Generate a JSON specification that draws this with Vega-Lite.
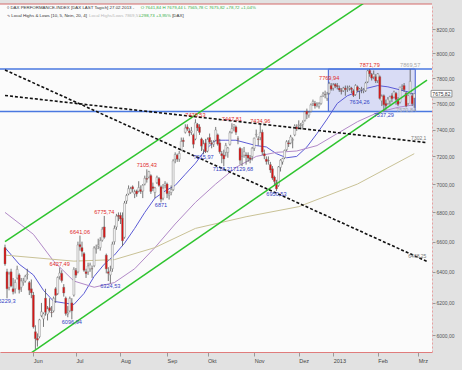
{
"$schema":"https://vega.github.io/schema/vega-lite/v6.json",
"width":432,"height":348,
"autosize":{"type":"none"},
"padding":{"left":0,"top":4,"right":30,"bottom":18},
"background":"#e2e2e2",
"config":{"view":{"stroke":null,"fill":"#fbfbfb"},"font":"Liberation Sans"},
"datasets":{
"candles":[
{"i":-14,"o":6560,"h":6580,"l":6440,"c":6452},{"i":-13,"o":6400,"h":6420,"l":6229.3,"c":6290},{"i":-12,"o":6300,"h":6400,"l":6280,"c":6385},{"i":-11,"o":6400,"h":6420,"l":6300,"c":6308},{"i":-10,"o":6290,"h":6360,"l":6254,"c":6271},{"i":-9,"o":6290,"h":6350,"l":6260,"c":6331},{"i":-8,"o":6360,"h":6440,"l":6350,"c":6416},{"i":-7,"o":6380,"h":6390,"l":6260,"c":6284},{"i":-6,"o":6300,"h":6360,"l":6270,"c":6340},{"i":-5,"o":6330,"h":6360,"l":6310,"c":6339},{"i":-4,"o":6340,"h":6380,"l":6330,"c":6370},{"i":-3,"o":6380,"h":6420,"l":6350,"c":6384},{"i":-2,"o":6330,"h":6340,"l":6250,"c":6281},{"i":-1,"o":6290,"h":6350,"l":6230,"c":6264},
{"i":0,"o":6250,"h":6270,"l":6040,"c":6050},{"i":1,"o":6020,"h":6060,"l":5914,"c":5978},{"i":2,"o":5980,"h":6010,"l":5930,"c":5969},{"i":3,"o":5990,"h":6100,"l":5980,"c":6094},{"i":4,"o":6120,"h":6200,"l":6110,"c":6144},{"i":5,"o":6100,"h":6140,"l":6050,"c":6131},{"i":6,"o":6230,"h":6290,"l":6120,"c":6141},{"i":7,"o":6130,"h":6180,"l":6090,"c":6162},{"i":8,"o":6170,"h":6230,"l":6140,"c":6152},{"i":9,"o":6140,"h":6180,"l":6110,"c":6138},
{"i":10,"o":6150,"h":6240,"l":6140,"c":6229},{"i":11,"o":6290,"h":6300,"l":6200,"c":6248},{"i":12,"o":6260,"h":6370,"l":6250,"c":6363},{"i":13,"o":6370,"h":6427.49,"l":6350,"c":6392},{"i":14,"o":6390,"h":6410,"l":6330,"c":6343},{"i":15,"o":6300,"h":6320,"l":6240,"c":6263},{"i":16,"o":6230,"h":6240,"l":6120,"c":6133},{"i":17,"o":6130,"h":6180,"l":6110,"c":6136},{"i":18,"o":6150,"h":6240,"l":6140,"c":6228},{"i":19,"o":6200,"h":6230,"l":6096.94,"c":6150},
{"i":20,"o":6250,"h":6430,"l":6240,"c":6416},{"i":21,"o":6410,"h":6425,"l":6360,"c":6378},{"i":22,"o":6400,"h":6600,"l":6390,"c":6578},{"i":23,"o":6580,"h":6641.06,"l":6540,"c":6566},{"i":24,"o":6560,"h":6600,"l":6500,"c":6535},{"i":25,"o":6520,"h":6530,"l":6400,"c":6410},{"i":26,"o":6400,"h":6420,"l":6360,"c":6388},{"i":27,"o":6400,"h":6460,"l":6380,"c":6438},{"i":28,"o":6420,"h":6460,"l":6400,"c":6444},{"i":29,"o":6420,"h":6440,"l":6360,"c":6419},
{"i":30,"o":6440,"h":6570,"l":6430,"c":6558},{"i":31,"o":6550,"h":6580,"l":6520,"c":6555},{"i":32,"o":6570,"h":6620,"l":6550,"c":6579},{"i":33,"o":6560,"h":6630,"l":6540,"c":6607},{"i":34,"o":6610,"h":6700,"l":6600,"c":6684},{"i":35,"o":6700,"h":6775.74,"l":6620,"c":6630},{"i":36,"o":6510,"h":6520,"l":6390,"c":6419},{"i":37,"o":6400,"h":6430,"l":6340,"c":6390},{"i":38,"o":6380,"h":6440,"l":6324.53,"c":6405},{"i":39,"o":6420,"h":6600,"l":6400,"c":6583},
{"i":40,"o":6600,"h":6710,"l":6580,"c":6690},{"i":41,"o":6700,"h":6790,"l":6680,"c":6774},{"i":42,"o":6780,"h":6800,"l":6740,"c":6772},{"i":43,"o":6780,"h":6800,"l":6720,"c":6754},{"i":44,"o":6760,"h":6800,"l":6570,"c":6606},{"i":45,"o":6630,"h":6880,"l":6620,"c":6865},{"i":46,"o":6880,"h":6930,"l":6860,"c":6918},{"i":47,"o":6930,"h":6990,"l":6920,"c":6967},{"i":48,"o":6940,"h":6980,"l":6930,"c":6966},{"i":49,"o":6980,"h":6990,"l":6940,"c":6965},
{"i":50,"o":6930,"h":6960,"l":6900,"c":6944},{"i":51,"o":6950,"h":6960,"l":6910,"c":6930},{"i":52,"o":6950,"h":7020,"l":6940,"c":6974},{"i":53,"o":6960,"h":6990,"l":6930,"c":6947},{"i":54,"o":6950,"h":7000,"l":6900,"c":6991},{"i":55,"o":7000,"h":7060,"l":6990,"c":7041},{"i":56,"o":7040,"h":7105.43,"l":7010,"c":7034},{"i":57,"o":7050,"h":7095,"l":7040,"c":7089},{"i":58,"o":7060,"h":7070,"l":6930,"c":6947},{"i":59,"o":6980,"h":7010,"l":6950,"c":6969},
{"i":60,"o":6940,"h":6980,"l":6900,"c":6972},{"i":61,"o":7010,"h":7060,"l":7000,"c":7048},{"i":62,"o":7040,"h":7050,"l":6980,"c":6990},{"i":63,"o":6980,"h":6990,"l":6871,"c":6893},{"i":64,"o":6900,"h":7000,"l":6885,"c":6970},{"i":65,"o":6990,"h":7020,"l":6970,"c":7004},{"i":66,"o":7000,"h":7010,"l":6900,"c":6932},{"i":67,"o":6920,"h":6950,"l":6890,"c":6928},{"i":68,"o":6940,"h":6990,"l":6920,"c":6960},{"i":69,"o":6960,"h":7180,"l":6950,"c":7167},
{"i":70,"o":7180,"h":7230,"l":7150,"c":7214},{"i":71,"o":7210,"h":7220,"l":7160,"c":7180},{"i":72,"o":7180,"h":7240,"l":7160,"c":7222},{"i":73,"o":7250,"h":7340,"l":7240,"c":7311},{"i":74,"o":7320,"h":7340,"l":7270,"c":7310},{"i":75,"o":7380,"h":7440,"l":7370,"c":7412},{"i":76,"o":7420,"h":7440,"l":7390,"c":7403},{"i":77,"o":7390,"h":7410,"l":7350,"c":7376},{"i":78,"o":7380,"h":7420,"l":7360,"c":7390},{"i":79,"o":7360,"h":7370,"l":7260,"c":7290},
{"i":80,"o":7330,"h":7478.53,"l":7320,"c":7451},{"i":81,"o":7440,"h":7450,"l":7390,"c":7413},{"i":82,"o":7420,"h":7440,"l":7360,"c":7379},{"i":83,"o":7330,"h":7340,"l":7240,"c":7276},{"i":84,"o":7250,"h":7320,"l":7215.97,"c":7292},{"i":85,"o":7300,"h":7330,"l":7225,"c":7236},{"i":86,"o":7240,"h":7340,"l":7230,"c":7326},{"i":87,"o":7340,"h":7370,"l":7290,"c":7306},{"i":88,"o":7300,"h":7320,"l":7260,"c":7291},{"i":89,"o":7290,"h":7320,"l":7270,"c":7305},
{"i":90,"o":7320,"h":7420,"l":7310,"c":7397},{"i":91,"o":7360,"h":7370,"l":7280,"c":7291},{"i":92,"o":7300,"h":7330,"l":7220,"c":7234},{"i":93,"o":7220,"h":7240,"l":7150,"c":7205},{"i":94,"o":7210,"h":7250,"l":7128.21,"c":7181},{"i":95,"o":7230,"h":7300,"l":7200,"c":7281},{"i":96,"o":7230,"h":7270,"l":7190,"c":7262},{"i":97,"o":7290,"h":7390,"l":7280,"c":7376},{"i":98,"o":7380,"h":7447.81,"l":7370,"c":7407},{"i":99,"o":7420,"h":7440,"l":7390,"c":7437},
{"i":100,"o":7420,"h":7430,"l":7360,"c":7380},{"i":101,"o":7330,"h":7350,"l":7290,"c":7328},{"i":102,"o":7260,"h":7270,"l":7140,"c":7172},{"i":103,"o":7200,"h":7260,"l":7129.68,"c":7202},{"i":104,"o":7210,"h":7270,"l":7190,"c":7234},{"i":105,"o":7210,"h":7230,"l":7140,"c":7204},{"i":106,"o":7210,"h":7230,"l":7160,"c":7188},{"i":107,"o":7190,"h":7210,"l":7150,"c":7180},{"i":108,"o":7200,"h":7270,"l":7170,"c":7260},{"i":109,"o":7260,"h":7340,"l":7240,"c":7335},
{"i":110,"o":7360,"h":7400,"l":7340,"c":7364},{"i":111,"o":7330,"h":7350,"l":7280,"c":7326},{"i":112,"o":7340,"h":7434.96,"l":7320,"c":7377},{"i":113,"o":7380,"h":7400,"l":7210,"c":7232},{"i":114,"o":7220,"h":7250,"l":7180,"c":7204},{"i":115,"o":7180,"h":7200,"l":7140,"c":7163},{"i":116,"o":7170,"h":7200,"l":7140,"c":7168},{"i":117,"o":7140,"h":7160,"l":7080,"c":7101},{"i":118,"o":7110,"h":7130,"l":7030,"c":7043},{"i":119,"o":7050,"h":7060,"l":6990,"c":7018},
{"i":120,"o":7010,"h":7030,"l":6950.53,"c":6965},{"i":121,"o":6990,"h":7130,"l":6980,"c":7123},{"i":122,"o":7120,"h":7180,"l":7090,"c":7172},{"i":123,"o":7160,"h":7190,"l":7140,"c":7184},{"i":124,"o":7190,"h":7250,"l":7180,"c":7244},{"i":125,"o":7250,"h":7320,"l":7240,"c":7309},{"i":126,"o":7300,"h":7320,"l":7270,"c":7292},{"i":127,"o":7300,"h":7360,"l":7290,"c":7344},{"i":128,"o":7320,"h":7340,"l":7260,"c":7325},{"i":129,"o":7360,"h":7440,"l":7350,"c":7427},
{"i":130,"o":7420,"h":7440,"l":7390,"c":7405},{"i":131,"o":7430,"h":7470,"l":7400,"c":7435},{"i":132,"o":7430,"h":7450,"l":7400,"c":7434},{"i":133,"o":7440,"h":7470,"l":7400,"c":7455},{"i":134,"o":7470,"h":7540,"l":7460,"c":7534},{"i":135,"o":7540,"h":7560,"l":7480,"c":7517},{"i":136,"o":7510,"h":7540,"l":7490,"c":7530},{"i":137,"o":7540,"h":7600,"l":7530,"c":7589},{"i":138,"o":7600,"h":7630,"l":7580,"c":7614},{"i":139,"o":7600,"h":7620,"l":7560,"c":7581},
{"i":140,"o":7590,"h":7610,"l":7570,"c":7596},{"i":141,"o":7580,"h":7610,"l":7560,"c":7596},{"i":142,"o":7600,"h":7660,"l":7590,"c":7653},{"i":143,"o":7660,"h":7690,"l":7650,"c":7674},{"i":144,"o":7670,"h":7700,"l":7640,"c":7669},{"i":145,"o":7640,"h":7690,"l":7620,"c":7672},{"i":146,"o":7680,"h":7769.94,"l":7670,"c":7755},{"i":147,"o":7740,"h":7760,"l":7700,"c":7712},{"i":148,"o":7720,"h":7760,"l":7700,"c":7745},{"i":149,"o":7750,"h":7760,"l":7720,"c":7735},
{"i":150,"o":7740,"h":7760,"l":7710,"c":7732},{"i":151,"o":7720,"h":7740,"l":7690,"c":7705},{"i":152,"o":7700,"h":7720,"l":7670,"c":7695},{"i":153,"o":7700,"h":7730,"l":7690,"c":7720},{"i":154,"o":7720,"h":7740,"l":7660,"c":7708},{"i":155,"o":7710,"h":7740,"l":7690,"c":7715},{"i":156,"o":7720,"h":7740,"l":7700,"c":7729},{"i":157,"o":7720,"h":7730,"l":7680,"c":7709},{"i":158,"o":7700,"h":7710,"l":7650,"c":7662},{"i":159,"o":7670,"h":7750,"l":7660,"c":7741},
{"i":160,"o":7730,"h":7740,"l":7690,"c":7702},{"i":161,"o":7700,"h":7720,"l":7634.26,"c":7712},{"i":162,"o":7710,"h":7730,"l":7680,"c":7713},{"i":163,"o":7700,"h":7720,"l":7680,"c":7708},{"i":164,"o":7700,"h":7770,"l":7690,"c":7760},{"i":165,"o":7770,"h":7865,"l":7760,"c":7857},{"i":166,"o":7860,"h":7871.79,"l":7810,"c":7833},{"i":167,"o":7830,"h":7840,"l":7780,"c":7799},{"i":168,"o":7810,"h":7860,"l":7790,"c":7830},{"i":169,"o":7810,"h":7830,"l":7760,"c":7776},
{"i":170,"o":7780,"h":7840,"l":7760,"c":7833},{"i":171,"o":7810,"h":7820,"l":7630,"c":7639},{"i":172,"o":7620,"h":7670,"l":7580,"c":7656},{"i":173,"o":7660,"h":7670,"l":7537.29,"c":7590},{"i":174,"o":7600,"h":7630,"l":7550,"c":7583},{"i":175,"o":7600,"h":7650,"l":7590,"c":7633},{"i":176,"o":7620,"h":7660,"l":7590,"c":7652},{"i":177,"o":7660,"h":7680,"l":7610,"c":7637},{"i":178,"o":7650,"h":7700,"l":7640,"c":7689},{"i":179,"o":7680,"h":7690,"l":7590,"c":7631},
{"i":180,"o":7630,"h":7650,"l":7580,"c":7593},{"i":181,"o":7610,"h":7730,"l":7600,"c":7728},{"i":182,"o":7720,"h":7750,"l":7700,"c":7728},{"i":183,"o":7740,"h":7760,"l":7690,"c":7707},{"i":184,"o":7680,"h":7690,"l":7570.84,"c":7581},{"i":185,"o":7600,"h":7670,"l":7590,"c":7661},{"i":186,"o":7680,"h":7869.57,"l":7670,"c":7773},{"i":187,"o":7660,"h":7680,"l":7580,"c":7597},{"i":188,"o":7641.84,"h":7679.44,"l":7565.78,"c":7675.82}
],
"ma":[
{"m":"s","i":-14,"v":6560},{"m":"s","i":-7,"v":6450},{"m":"s","i":0,"v":6380},{"m":"s","i":5,"v":6280},{"m":"s","i":10,"v":6210},{"m":"s","i":15,"v":6200},{"m":"s","i":20,"v":6190},{"m":"s","i":25,"v":6260},{"m":"s","i":30,"v":6370},{"m":"s","i":35,"v":6450},{"m":"s","i":40,"v":6510},{"m":"s","i":45,"v":6590},{"m":"s","i":50,"v":6690},{"m":"s","i":55,"v":6800},{"m":"s","i":60,"v":6900},{"m":"s","i":65,"v":6950},{"m":"s","i":70,"v":6990},{"m":"s","i":75,"v":7070},{"m":"s","i":80,"v":7150},{"m":"s","i":85,"v":7250},{"m":"s","i":90,"v":7320},{"m":"s","i":95,"v":7320},{"m":"s","i":100,"v":7320},{"m":"s","i":105,"v":7300},{"m":"s","i":110,"v":7280},{"m":"s","i":115,"v":7270},{"m":"s","i":120,"v":7220},{"m":"s","i":125,"v":7190},{"m":"s","i":130,"v":7200},{"m":"s","i":135,"v":7270},{"m":"s","i":140,"v":7370},{"m":"s","i":145,"v":7480},{"m":"s","i":150,"v":7600},{"m":"s","i":155,"v":7660},{"m":"s","i":160,"v":7690},{"m":"s","i":165,"v":7720},{"m":"s","i":170,"v":7740},{"m":"s","i":175,"v":7730},{"m":"s","i":180,"v":7710},{"m":"s","i":185,"v":7690},{"m":"s","i":188,"v":7670},
{"m":"m","i":-14,"v":6800},{"m":"m","i":0,"v":6650},{"m":"m","i":10,"v":6470},{"m":"m","i":20,"v":6340},{"m":"m","i":30,"v":6300},{"m":"m","i":40,"v":6330},{"m":"m","i":50,"v":6420},{"m":"m","i":60,"v":6560},{"m":"m","i":70,"v":6720},{"m":"m","i":80,"v":6870},{"m":"m","i":90,"v":7000},{"m":"m","i":100,"v":7120},{"m":"m","i":110,"v":7200},{"m":"m","i":120,"v":7230},{"m":"m","i":130,"v":7240},{"m":"m","i":140,"v":7280},{"m":"m","i":150,"v":7370},{"m":"m","i":160,"v":7460},{"m":"m","i":170,"v":7530},{"m":"m","i":180,"v":7570},{"m":"m","i":188,"v":7590},
{"m":"l","i":-14,"v":6510},{"m":"l","i":20,"v":6470},{"m":"l","i":40,"v":6480},{"m":"l","i":60,"v":6560},{"m":"l","i":80,"v":6690},{"m":"l","i":105,"v":6770},{"m":"l","i":131,"v":6840},{"m":"l","i":160,"v":7000},{"m":"l","i":188,"v":7220}
],
"green":[{"g":"u","i":-14,"v":6601},{"g":"u","i":194.3,"v":8788},{"g":"d","i":-14,"v":5784},{"g":"d","i":194.3,"v":7784}],
"dashed":[{"g":"a","i":-14,"v":7864},{"g":"a","i":194.3,"v":6468.25},{"g":"b","i":-14,"v":7662},{"g":"b","i":194.3,"v":7302.1}],
"hlines":[{"v":7871.79},{"v":7537.29}],
"box":[{"i0":145.6,"i1":188.5,"v0":7537.29,"v1":7871.79}],
"top":[{"v":8412}],
"highs":[{"k":"h","i":13,"v":6427.49,"t":"6427,49"},{"k":"h","i":23,"v":6641.06,"t":"6641,06"},{"k":"h","i":35,"v":6775.74,"t":"6775,74"},{"k":"h","i":56,"v":7105.43,"t":"7105,43"},{"k":"h","i":80,"v":7478.53,"t":"7478,53"},{"k":"h","i":98,"v":7447.81,"t":"7447,81"},{"k":"h","i":112,"v":7434.96,"t":"7434,96"},{"k":"h","i":146,"v":7769.94,"t":"7769,94"},{"k":"h","i":166,"v":7871.79,"t":"7871,79"},{"k":"g","i":186,"v":7869.57,"t":"7869,57"}],
"lows":[{"k":"l","i":-13,"v":6229.3,"t":"6229,3"},{"k":"l","i":19,"v":6096.94,"t":"6096,94"},{"k":"l","i":38,"v":6324.53,"t":"6324,53"},{"k":"l","i":63,"v":6871,"t":"6871"},{"k":"l","i":84,"v":7215.97,"t":"7215,97"},{"k":"l","i":93.5,"v":7128.21,"t":"7128,21"},{"k":"l","i":103.5,"v":7129.68,"t":"7129,68"},{"k":"l","i":120,"v":6950.53,"t":"6950,53"},{"k":"l","i":161,"v":7634.26,"t":"7634,26"},{"k":"l","i":173,"v":7537.29,"t":"7537,29"},{"k":"g","i":184,"v":7570.84,"t":"7570,84"}],
"trendlab":[{"i":194,"v":7302.1,"t":"7302,1"},{"i":194,"v":6468.25,"t":"6468,25"}],
"header":[{"k":"a","i":-13,"v":8378,"t":"◊ DAX PERFORMANCE-INDEX [DAX LAST Tagich] 27.02.2013 -"},{"k":"g","i":53,"v":8378,"t":"O 7641,84 H 7679,44 L 7565,78 C 7675,82 +78,72 +1,04%"},{"k":"a","i":-13,"v":8310,"t":"∿ Local Highs & Lows [10, 5, Nein, 20, 4]"},{"k":"l","i":27.5,"v":8310,"t":"Local Highs/Lows 7869,57"},{"k":"g","i":52,"v":8310,"t":"+298,73 +3,95%"},{"k":"a","i":68.5,"v":8310,"t":"[DAX]"}],
"pricebox":[{"i0":196.3,"i1":206.6,"v0":7650,"v1":7702}],
"price":[{"i":201.4,"v":7675.82,"t":"7675,82"}]
},
"layer":[
{"data":{"name":"box"},"mark":{"type":"rect","fill":"#cdd2f3","fillOpacity":0.75,"stroke":"#3d5bd0","strokeWidth":1},
 "encoding":{"x":{"field":"i0","type":"quantitative","title":null},"x2":{"field":"i1"},"y":{"field":"v0","type":"quantitative","title":null},"y2":{"field":"v1"}}},
{"data":{"name":"hlines"},"mark":{"type":"rule","color":"#4a78e0","strokeWidth":1.4},
 "encoding":{"y":{"field":"v","type":"quantitative","title":null}}},
{"data":{"name":"top"},"mark":{"type":"rule","color":"#d46a6a","strokeWidth":1},
 "encoding":{"y":{"field":"v","type":"quantitative","title":null}}},
{"data":{"name":"ma"},"mark":{"type":"line","strokeWidth":1,"clip":true},
 "encoding":{"x":{"field":"i","type":"quantitative","title":null},"y":{"field":"v","type":"quantitative","title":null},
  "color":{"field":"m","type":"nominal","legend":null,"scale":{"domain":["s","m","l"],"range":["#5b5bd6","#b28ac8","#c9c296"]}}}},
{"data":{"name":"candles"},"mark":{"type":"rule","color":"#555","strokeWidth":0.8,"clip":true},
 "encoding":{
  "x":{"field":"i","type":"quantitative","title":null,"scale":{"domain":[-14,194.3],"nice":false,"zero":false},
   "axis":{"values":[0,21,43,66,86,109,131,148,170,190],"labelExpr":"['Jun','Jul','Aug','Sep','Okt','Nov','Dez','2013','Feb','Mrz'][indexof([0,21,43,66,86,109,131,148,170,190], datum.value)]","grid":false,"domainColor":"#e07c7c","tickColor":"#999","tickSize":4,"labelFontSize":5.5,"labelColor":"#444","labelAlign":"left","labelPadding":2,"labelDx":1,"labelFlush":false,"labelOverlap":false}},
  "y":{"field":"l","type":"quantitative","title":null,"scale":{"type":"log","domain":[5897,8412],"nice":false},
   "axis":{"orient":"right","values":[6000,6200,6400,6600,6800,7000,7200,7400,7600,7800,8000,8200],"labelExpr":"replace(format(datum.value,'.2f'),'.',',')","grid":false,"domainColor":"#e8a0a0","domainDash":[2,2],"tickColor":"#999","tickSize":3,"labelFontSize":5,"labelColor":"#555","labelPadding":1,"labelOverlap":false}},
  "y2":{"field":"h"}}},
{"data":{"name":"candles"},"mark":{"type":"bar","width":2,"stroke":"#777","strokeWidth":0.4,"clip":true},
 "encoding":{"x":{"field":"i","type":"quantitative","title":null},"y":{"field":"o","type":"quantitative","title":null},"y2":{"field":"c"},
  "color":{"condition":{"test":"datum.o > datum.c","value":"#dd1111"},"value":"#f2f2f2"}}},
{"data":{"name":"green"},"mark":{"type":"line","color":"#2ec42e","strokeWidth":1.5,"clip":true},
 "encoding":{"x":{"field":"i","type":"quantitative","title":null},"y":{"field":"v","type":"quantitative","title":null},"detail":{"field":"g"}}},
{"data":{"name":"dashed"},"mark":{"type":"line","color":"#111","strokeWidth":1.6,"strokeDash":[3,2],"clip":true},
 "encoding":{"x":{"field":"i","type":"quantitative","title":null},"y":{"field":"v","type":"quantitative","title":null},"detail":{"field":"g"}}},
{"data":{"name":"highs"},"mark":{"type":"text","fontSize":5.6,"baseline":"bottom","dy":-1,"clip":true},
 "encoding":{"x":{"field":"i","type":"quantitative","title":null},"y":{"field":"v","type":"quantitative","title":null},"text":{"field":"t"},
  "color":{"field":"k","type":"nominal","legend":null,"scale":{"domain":["h","g"],"range":["#e02a2a","#a8a8a8"]}}}},
{"data":{"name":"lows"},"mark":{"type":"text","fontSize":5.6,"baseline":"top","dy":1,"clip":true},
 "encoding":{"x":{"field":"i","type":"quantitative","title":null},"y":{"field":"v","type":"quantitative","title":null},"text":{"field":"t"},
  "color":{"field":"k","type":"nominal","legend":null,"scale":{"domain":["l","g"],"range":["#3442c4","#a8a8a8"]}}}},
{"data":{"name":"trendlab"},"mark":{"type":"text","fontSize":5,"align":"right","baseline":"bottom","dy":-2,"color":"#777"},
 "encoding":{"x":{"field":"i","type":"quantitative","title":null},"y":{"field":"v","type":"quantitative","title":null},"text":{"field":"t"}}},
{"data":{"name":"header"},"mark":{"type":"text","fontSize":4.4,"align":"left","baseline":"middle"},
 "encoding":{"x":{"field":"i","type":"quantitative","title":null},"y":{"field":"v","type":"quantitative","title":null},"text":{"field":"t"},
  "color":{"field":"k","type":"nominal","legend":null,"scale":{"domain":["a","g","l"],"range":["#333333","#38b048","#b8b8b8"]}}}},
{"data":{"name":"pricebox"},"mark":{"type":"rect","fill":"#ffffff","stroke":"#555","strokeWidth":0.6},
 "encoding":{"x":{"field":"i0","type":"quantitative","title":null},"x2":{"field":"i1"},"y":{"field":"v0","type":"quantitative","title":null},"y2":{"field":"v1"}}},
{"data":{"name":"price"},"mark":{"type":"text","fontSize":5,"align":"center","baseline":"middle","color":"#333"},
 "encoding":{"x":{"field":"i","type":"quantitative","title":null},"y":{"field":"v","type":"quantitative","title":null},"text":{"field":"t"}}}
],
"resolve":{"scale":{"color":"independent"}}
}
